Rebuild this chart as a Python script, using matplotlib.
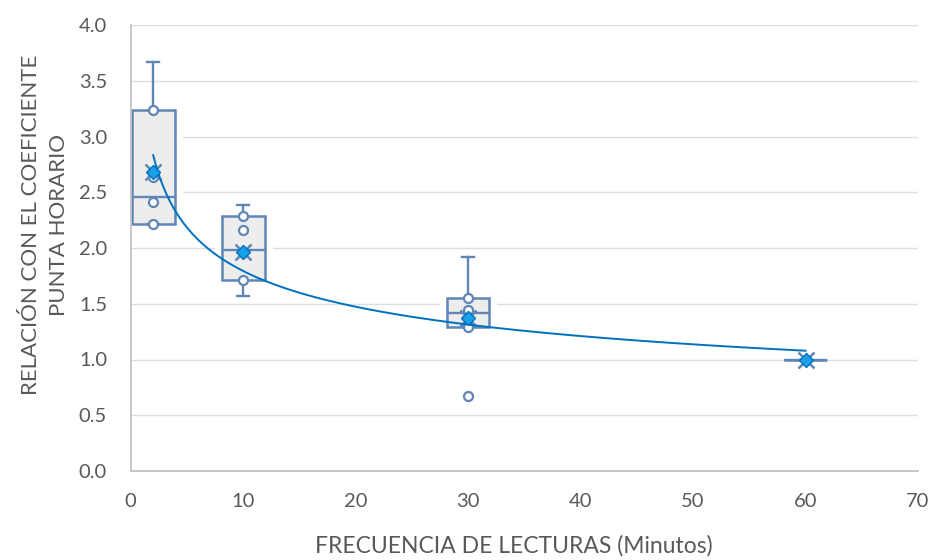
import numpy as np
import matplotlib
matplotlib.use("Agg")
import matplotlib.pyplot as plt
import matplotlib.patheffects as pe

plt.rcParams['font.family'] = ['Lato', 'DejaVu Sans']

# Reading frequency groups (minutes)
frecuencias = [2, 10, 30, 60]

# Box statistics per group
bigote_inf = [2.215, 1.57, 1.29, 1.0]
q1 = [2.215, 1.71, 1.29, 1.0]
mediana = [2.46, 1.98, 1.42, 1.0]
q3 = [3.24, 2.29, 1.555, 1.0]
bigote_sup = [3.67, 2.39, 1.92, 1.0]
media = [2.68, 1.96, 1.37, 1.0]

# Individual points shown inside each box, and outliers
puntos_internos = [
    [3.24, 2.64, 2.41, 2.215],
    [2.29, 2.16, 1.71],
    [1.555, 1.44, 1.29],
    [],
]
atipicos = [[], [], [0.67], []]

y_ticks = [0.0, 0.5, 1.0, 1.5, 2.0, 2.5, 3.0, 3.5, 4.0]
x_ticks = [0, 10, 20, 30, 40, 50, 60, 70]

BOX_EDGE = '#5F86B5'
BOX_FILL = '#EDEDED'
TEXT = '#595959'
TREND = '#0070C0'

fig = plt.figure(figsize=(9.34, 5.6), dpi=100)
ax = fig.add_axes([130.7 / 934, 89 / 560, (918 - 130.7) / 934, (471 - 25) / 560])

stats = []
for i in range(len(frecuencias)):
    stats.append(dict(whislo=bigote_inf[i], q1=q1[i], med=mediana[i], q3=q3[i],
                      whishi=bigote_sup[i], mean=media[i], fliers=[]))

halo = [pe.Stroke(linewidth=11, foreground='white'), pe.Normal()]
bp = ax.bxp(stats, positions=frecuencias, widths=3.8, patch_artist=True,
            showmeans=False, showfliers=False, manage_ticks=False,
            boxprops=dict(facecolor=BOX_FILL, edgecolor=BOX_EDGE, linewidth=1.8),
            medianprops=dict(color=BOX_EDGE, linewidth=1.7),
            whiskerprops=dict(color=BOX_EDGE, linewidth=1.7),
            capprops=dict(color=BOX_EDGE, linewidth=1.7),
            capwidths=1.05)
for b in bp['boxes']:
    b.set_path_effects(halo)
    b.set_zorder(2)
for key in ('medians', 'whiskers', 'caps'):
    for l in bp[key]:
        l.set_zorder(2.5)

# inner points and outliers
for x, pts, out in zip(frecuencias, puntos_internos, atipicos):
    vals = list(pts) + list(out)
    if vals:
        ax.plot([x] * len(vals), vals, linestyle='none', marker='o', ms=6.5,
                mfc='white', mec=BOX_EDGE, mew=1.6, zorder=3)

# mean markers of the box series
ax.plot(frecuencias, media, linestyle='none', marker='x', ms=11, mew=1.8,
        color=BOX_EDGE, zorder=3.5)

# power trend fitted to the group means
b_exp, ln_a = np.polyfit(np.log(frecuencias), np.log(media), 1)
xs = np.linspace(frecuencias[0], frecuencias[-1], 300)
ax.plot(xs, np.exp(ln_a) * xs ** b_exp, color=TREND, linewidth=1.4, zorder=4)

# mean series
ax.plot(frecuencias, media, linestyle='none', marker='D', ms=7.5,
        mfc='#1AA0E6', mec=TREND, mew=1.0, zorder=5)

ax.set_xlim(0, 70)
ax.set_ylim(0, 4.0)
ax.set_xticks(x_ticks)
ax.set_yticks(y_ticks)
ax.set_xticklabels([str(v) for v in x_ticks])
ax.set_yticklabels([f"{v:.1f}" for v in y_ticks])
ax.tick_params(axis='both', length=0, labelsize=14.5, labelcolor=TEXT)
ax.tick_params(axis='y', pad=17)
ax.tick_params(axis='x', pad=16)

ax.yaxis.grid(True, color='#DEDEDE', linewidth=1.0, zorder=0)
ax.set_axisbelow(True)
for s in ('top', 'right'):
    ax.spines[s].set_visible(False)
for s in ('left', 'bottom'):
    ax.spines[s].set_color('#BFBFBF')
    ax.spines[s].set_linewidth(1.2)

fig.text(514 / 934, 1 - 546 / 560, 'FRECUENCIA DE LECTURAS (Minutos)',
         ha='center', va='center', fontsize=16.5, color=TEXT)
fig.text(45 / 934, 1 - 225 / 560, 'RELACIÓN CON EL COEFICIENTE\nPUNTA HORARIO',
         ha='center', va='center', rotation=90, fontsize=16, color=TEXT,
         linespacing=1.45, multialignment='center')

fig.savefig('out.png', dpi=100)
